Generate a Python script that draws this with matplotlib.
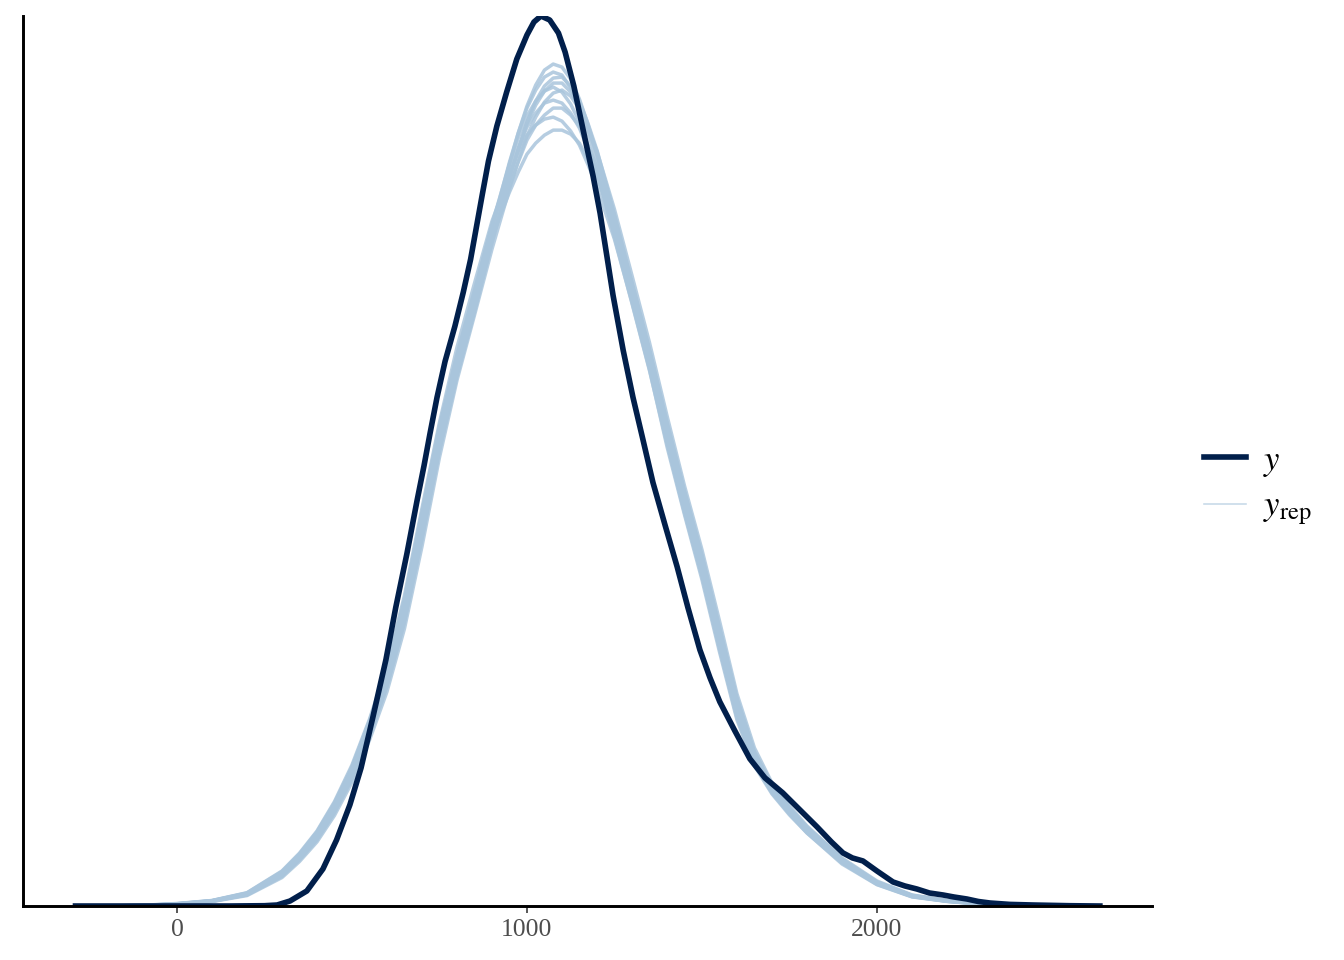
import matplotlib
matplotlib.use("Agg")
import matplotlib.pyplot as plt
from matplotlib.lines import Line2D

# ---------------- data (density, arbitrary units; the y axis is unlabeled) ----------------
y_x = [-290, 150, 250, 286, 323, 371, 417, 456, 494, 526, 560, 597, 625, 657, 686, 706,
       723, 743, 766, 794, 818, 839, 856, 872, 890, 914, 942, 971, 1000, 1020, 1040,
       1065, 1090, 1109, 1134, 1160, 1189, 1209, 1228, 1246, 1275, 1303, 1330, 1360,
       1395, 1429, 1460, 1494, 1523, 1551, 1594, 1637, 1680, 1731, 1780, 1829, 1870,
       1903, 1930, 1960, 2000, 2046, 2080, 2114, 2150, 2189, 2220, 2257, 2290, 2323,
       2380, 2446, 2550, 2637]
y_dens = [0, 0, 0.3, 1, 5, 15, 37, 66, 101, 138, 189, 246, 298, 352, 405, 440,
          472, 508, 544, 579, 613, 646, 679, 710, 744, 779, 813, 846, 870, 883, 889,
          885, 872, 853, 819, 776, 729, 692, 650, 610, 555, 508, 468, 423,
          380, 339, 298, 256, 228, 204, 175, 147, 128, 113, 96, 79, 64,
          53, 48, 45, 35, 24, 20, 17, 13, 11, 9, 7, 4.5, 3,
          1.6, 1, 0.3, 0]

yrep_x = [-200, -100, 0, 100, 200, 300, 350, 400, 450, 500, 550, 600, 650, 700, 750, 800,
          850, 900, 950, 975, 1000, 1025, 1050, 1075, 1100, 1125, 1150, 1175, 1200, 1250,
          1300, 1350, 1400, 1450, 1500, 1550, 1600, 1650, 1700, 1750, 1800, 1900, 2000,
          2100, 2200, 2300, 2400, 2500, 2600]

yrep_1 = [0,0.5,2,5,12,32,49,70,98,133,177,228,295,380,467,538,602,674,741,772,799,820,835,841,838,826,806,780,751,682,610,543,473,404,340,268,198,148,117,95,76,45,23,10,5,2,1,0.3,0]
yrep_2 = [0,0.4,1.7,4.6,11,29.6,46,66,93,127,169,219,283,366,454,529,593,662,727,756,783,804,819,827,828,819,804,781,755,691,623,556,484,415,351,279,208,154,121,98,79,47,24,10.7,5.3,2.2,1.1,0.4,0]
yrep_3 = [0,0.6,2.3,5.4,13,34.4,52,74,103,139,185,237,307,394,480,551,615,681,741,767,789,804,814,818,813,801,783,759,733,668,602,535,462,393,329,257,188,142,113,92,73,43,21.6,9.3,4.7,1.8,0.9,0.2,0]
yrep_4 = [0,0.5,1.9,4.8,11.5,30.8,47.5,68,95.5,130,173,223,289,373,461,538,602,666,719,743,765,780,790,797,797,790,779,760,738,685,621,554,479,409,345,274,203,151,119,97,77,46,23.7,10.4,5.2,2.1,1,0.3,0]
yrep_5 = [0,0.5,2.1,5.2,12.5,33.2,50.5,72,100.5,136,181,233,301,387,473,545,609,678,743,772,797,815,828,833,830,817,797,771,744,676,607,539,467,399,335,262,193,145,115,93,75,44,22.3,9.6,4.8,1.9,1,0.3,0]
yrep_6 = [0,0.3,1.5,4.4,10.4,28.4,44.4,64,90.4,123.5,165.6,214,277,359,448,525,590,656,716,744,769,788,803,812,815,809,796,776,754,696,630,563,490,420,356,285,212,158,123,100,80,48,25,11.1,5.5,2.3,1.2,0.4,0]
yrep_7 = [0,0.7,2.5,5.5,13.3,35,52.8,74.9,104.3,140.9,186.5,239.8,310.2,397.2,483,558,622,684,731,753,770,780,786,788,784,774,760,740,718,666,603,536,459,391,326,254,186,140,112,91,73,42,21.3,9.1,4.6,1.8,0.9,0.2,0]
yrep_8 = [0,0.5,2,5,11.7,31.4,48.2,69,96.7,131.4,175.1,225.6,292,376.6,463.8,543,607,668,713,733,751,762,770,775,775,771,762,745,727,681,621,554,479,407,343,271,200,150,118,96,77,45.5,23.3,10.2,5.1,2,1,0.3,0]
yrep_9 = [0,0.4,1.8,4.7,11.2,30.2,46.7,67,94.2,128.3,171.3,220.9,285.9,369.7,457.4,531.8,596.1,664,727,755,781,800,814,822,822,813,798,775,751,688,620,553,481,412,348,276.5,205,153,120,97.5,78,46.6,24,10.5,5.2,2.1,1.1,0.3,0]
yrep_10 = [0,0.6,2.2,5.2,12.7,33.5,50.9,72.5,101.2,137,181.8,233.9,302.6,388.6,475,549,613,678,733,757,778,792,802,805,802,792,777,755,731,673,608,541,466,397,333,261,192,144,114,93,74,43.7,22.2,9.6,4.8,1.9,0.9,0.3,0]
yrep_all = [yrep_1, yrep_2, yrep_3, yrep_4, yrep_5, yrep_6, yrep_7, yrep_8, yrep_9, yrep_10]

x_ticks = [0, 1000, 2000]
x_tick_labels = ["0", "1000", "2000"]
legend_labels = [r"$y$", r"$y_{\mathrm{rep}}$"]

# ---------------- style ----------------
plt.rcParams["font.family"] = ["Liberation Serif", "DejaVu Serif"]
plt.rcParams["mathtext.fontset"] = "stix"

DARK = "#011f4b"
LIGHT = "#a9c5dc"

fig = plt.figure(figsize=(7, 5), dpi=192)
ax = fig.add_axes([23 / 1344, 1 - 906 / 960, (1152 - 23) / 1344, (906 - 16) / 960])

for curve in yrep_all:
    ax.plot(yrep_x, curve, color=LIGHT, lw=1.3, alpha=0.85, solid_capstyle="round",
            solid_joinstyle="round", zorder=2)
ax.plot(y_x, y_dens, color=DARK, lw=2.1, solid_joinstyle="round", zorder=3)

ax.set_xlim(-440, 2786)
ax.set_ylim(0, max(y_dens))

for side in ["top", "right"]:
    ax.spines[side].set_visible(False)
for side in ["left", "bottom"]:
    ax.spines[side].set_linewidth(1.1)
    ax.spines[side].set_color("black")
    ax.spines[side].set_zorder(4)

ax.set_yticks([])
ax.set_xticks(x_ticks)
ax.set_xticklabels(x_tick_labels)
ax.tick_params(axis="x", length=2.75, width=0.6, color="#333333", labelcolor="#4d4d4d",
               labelsize=9.6, pad=2.2)

handles = [Line2D([0], [0], color=DARK, lw=2.1),
           Line2D([0], [0], color="#c6d9e8", lw=0.6)]
leg = fig.legend(handles, legend_labels, loc="center left",
                 bbox_to_anchor=(1204 / 1344, 1 - 486 / 960), frameon=False,
                 fontsize=13, handlelength=1.2, handletextpad=0.5, labelspacing=0.35,
                 borderaxespad=0, borderpad=0)

fig.savefig("out.png", dpi=192, facecolor="white")
